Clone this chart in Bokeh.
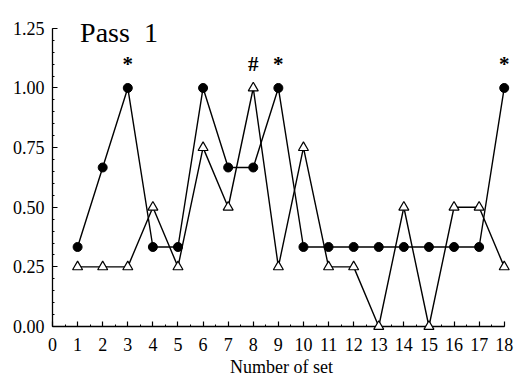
import numpy as np
from bokeh.plotting import figure
from bokeh.models import Range1d, Label, ColumnDataSource, FixedTicker
from bokeh.core.properties import value
from bokeh.embed import file_html
from bokeh.resources import INLINE

sets = list(range(1, 19))
circles = [1/3, 2/3, 1.0, 1/3, 1/3, 1.0, 2/3, 2/3, 1.0,
           1/3, 1/3, 1/3, 1/3, 1/3, 1/3, 1/3, 1/3, 1.0]
triangles = [0.25, 0.25, 0.25, 0.5, 0.25, 0.75, 0.5, 1.0, 0.25,
             0.75, 0.25, 0.25, 0.0, 0.5, 0.0, 0.5, 0.5, 0.25]
ann_x = [3, 8, 9, 18]
ann_text = ["*", "#", "*", "*"]
y_ticks = [0.0, 0.25, 0.5, 0.75, 1.0, 1.25]
y_tick_labels = ["0.00", "0.25", "0.50", "0.75", "1.00", "1.25"]
x_ticks = list(range(0, 19))
title_text = "Pass\u00a0\u00a01"
x_label = "Number of set"

FONT = "Liberation Serif"

p = figure(width=516, height=381, x_range=Range1d(0, 18.25), y_range=Range1d(0, 1.35),
           output_backend="svg", toolbar_location=None,
           min_border_left=52, min_border_right=6, min_border_top=4, min_border_bottom=55)
p.outline_line_color = None
p.xgrid.grid_line_color = None
p.ygrid.grid_line_color = None
p.background_fill_color = "white"
p.border_fill_color = "white"

src = ColumnDataSource(dict(x=sets, c=circles, t=triangles))
p.line("x", "t", source=src, line_color="black", line_width=1.4, level="overlay")
p.line("x", "c", source=src, line_color="black", line_width=1.4, level="overlay")
p.scatter("x", "t", source=src, marker="triangle", size=10, fill_color="white",
          line_color="black", line_width=1.2, level="overlay")
p.scatter("x", "c", source=src, marker="circle", size=9, fill_color="black",
          line_color="black", level="overlay")

asrc = ColumnDataSource(dict(x=ann_x, y=[1.1] * len(ann_x), t=ann_text))
p.text("x", "y", text="t", source=asrc, text_font=value(FONT), text_font_size="21px",
       text_font_style="bold", text_align="center", text_baseline="middle", text_color="black")

p.add_layout(Label(x=1.1, y=1.233, text=title_text, text_font=FONT, text_font_size="28px",
                   text_baseline="alphabetic", text_color="black"))

p.yaxis.ticker = FixedTicker(ticks=y_ticks, minor_ticks=list(np.arange(0, 1.26, 0.05)))
p.yaxis.major_label_overrides = {t: l for t, l in zip(y_ticks, y_tick_labels)}
p.yaxis.bounds = (0, 1.25)
p.xaxis.ticker = FixedTicker(ticks=x_ticks, minor_ticks=list(np.arange(0, 18.01, 0.5)))
p.xaxis.bounds = (0, 18)
p.xaxis.axis_label = x_label
p.xaxis.axis_label_text_font = FONT
p.xaxis.axis_label_text_font_size = "18px"
p.xaxis.axis_label_text_font_style = "normal"
p.xaxis.axis_label_text_color = "black"
p.xaxis.axis_label_standoff = 3

for ax in (p.xaxis, p.yaxis):
    ax.axis_line_color = "black"
    ax.axis_line_width = 1.3
    ax.major_tick_line_color = "black"
    ax.major_tick_line_width = 1.2
    ax.minor_tick_line_color = "black"
    ax.major_tick_in = 5
    ax.major_tick_out = 0
    ax.minor_tick_in = 2
    ax.minor_tick_out = 0
    ax.major_label_text_font = FONT
    ax.major_label_text_font_size = "18px"
    ax.major_label_text_color = "black"
p.yaxis.major_label_standoff = 8
p.xaxis.major_label_standoff = 11

open("out.html", "w").write(file_html(p, INLINE))
